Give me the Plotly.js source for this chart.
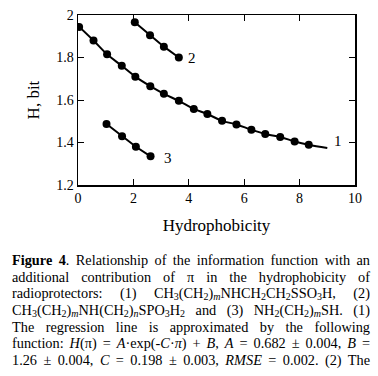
<!DOCTYPE html>
<html><head><meta charset="utf-8">
<script src="https://cdn.plot.ly/plotly-3.0.1.min.js"></script>
<style>
body{margin:0;background:#fff;width:378px;height:376px;overflow:hidden}
#plot{width:378px;height:245px}
#plot text{font-family:"Liberation Serif","Times New Roman",serif !important}
#cap{position:absolute;left:12px;top:252px;width:358px;font-family:"Liberation Serif",serif;font-size:14.3px;color:#000}
#cap div{text-align:justify;text-align-last:justify;height:16.7px;line-height:16.7px}
#cap sub{font-size:10px;vertical-align:-2px;line-height:0}
</style></head><body>
<div id="plot"></div>
<div id="cap">
<div><b>Figure 4</b>. Relationship of the information function with an</div>
<div>additional contribution of π in the hydrophobicity of</div>
<div>radioprotectors: (1) CH<sub>3</sub>(CH<sub>2</sub>)<sub><i>m</i></sub>NHCH<sub>2</sub>CH<sub>2</sub>SSO<sub>3</sub>H, (2)</div>
<div>CH<sub>3</sub>(CH<sub>2</sub>)<sub><i>m</i></sub>NH(CH<sub>2</sub>)<sub><i>n</i></sub>SPO<sub>3</sub>H<sub>2</sub> and (3) NH<sub>2</sub>(CH<sub>2</sub>)<sub><i>m</i></sub>SH. (1)</div>
<div>The regression line is approximated by the following</div>
<div>function: <i>H</i>(π) = <i>A</i>·exp(-<i>C</i>·<i>π</i>) + <i>B</i>, <i>A</i> = 0.682 ± 0.004, <i>B</i> =</div>
<div>1.26 ± 0.004, <i>C</i> = 0.198 ± 0.003, <i>RMSE</i> = 0.002. (2) The</div>
</div>
<script>
// Series 1 (points)
const x1 = [0.04,0.56,1.05,1.58,2.07,2.61,3.10,3.64,4.18,4.67,5.20,5.72,6.26,6.76,7.30,7.82,8.33];
const y1 = [1.944,1.880,1.815,1.761,1.710,1.665,1.629,1.596,1.558,1.534,1.502,1.485,1.460,1.440,1.426,1.405,1.389];
// Series 1 regression line
const xLine = [0.0,0.56,1.05,1.58,2.07,2.61,3.10,3.64,4.18,4.67,5.20,5.72,6.26,6.76,7.30,7.82,8.33,9.0];
const yLine = [1.950,1.880,1.815,1.761,1.710,1.665,1.629,1.596,1.558,1.534,1.502,1.485,1.460,1.440,1.426,1.405,1.389,1.374];
// Series 2
const x2 = [2.05,2.60,3.10,3.64];
const y2 = [1.966,1.905,1.851,1.800];
// Series 3
const x3 = [1.03,1.59,2.09,2.62];
const y3 = [1.487,1.430,1.380,1.335];
const labels = ['1','2','3'];
const labelX = [9.38,4.1,3.26];
const labelY = [1.405,1.80,1.328];

const mk = {color:'#000',size:8};
const ln = {color:'#000',width:2};
const traces = [
 {x:xLine,y:yLine,mode:'lines',line:Object.assign({shape:'spline'},ln),hoverinfo:'skip'},
 {x:x1,y:y1,mode:'markers',marker:mk},
 {x:x2,y:y2,mode:'lines+markers',marker:mk,line:ln},
 {x:x3,y:y3,mode:'lines+markers',marker:mk,line:ln}
];
const serif = 'Times New Roman';
const layout = {
 width:378,height:245,
 margin:{l:78,r:23,t:15,b:60},
 showlegend:false,
 paper_bgcolor:'#fff',plot_bgcolor:'#fff',
 font:{family:serif,color:'#000',size:14},
 xaxis:{range:[0,10],tickvals:[0,2,4,6,8,10],ticks:'inside',ticklen:6,tickcolor:'#000',
   showline:true,linecolor:'#000',linewidth:1.5,mirror:'allticks',showgrid:false,zeroline:false,
   tickfont:{family:serif,size:14},
   title:{text:'Hydrophobicity',font:{family:serif,size:17},standoff:14}},
 yaxis:{range:[1.2,2],tickvals:[1.2,1.4,1.6,1.8,2],ticktext:['1.2','1.4','1.6','1.8','2'],ticks:'inside',ticklen:6,tickcolor:'#000',
   showline:true,linecolor:'#000',linewidth:1.5,mirror:'allticks',showgrid:false,zeroline:false,
   tickfont:{family:serif,size:14},
   title:{text:'H, bit',font:{family:serif,size:17},standoff:12}},
 annotations: labels.map((t,i)=>({x:labelX[i],y:labelY[i],text:t,showarrow:false,font:{family:serif,size:15,color:'#000'}}))
};
Plotly.newPlot('plot',traces,layout,{staticPlot:true,displayModeBar:false});
</script>
</body></html>
